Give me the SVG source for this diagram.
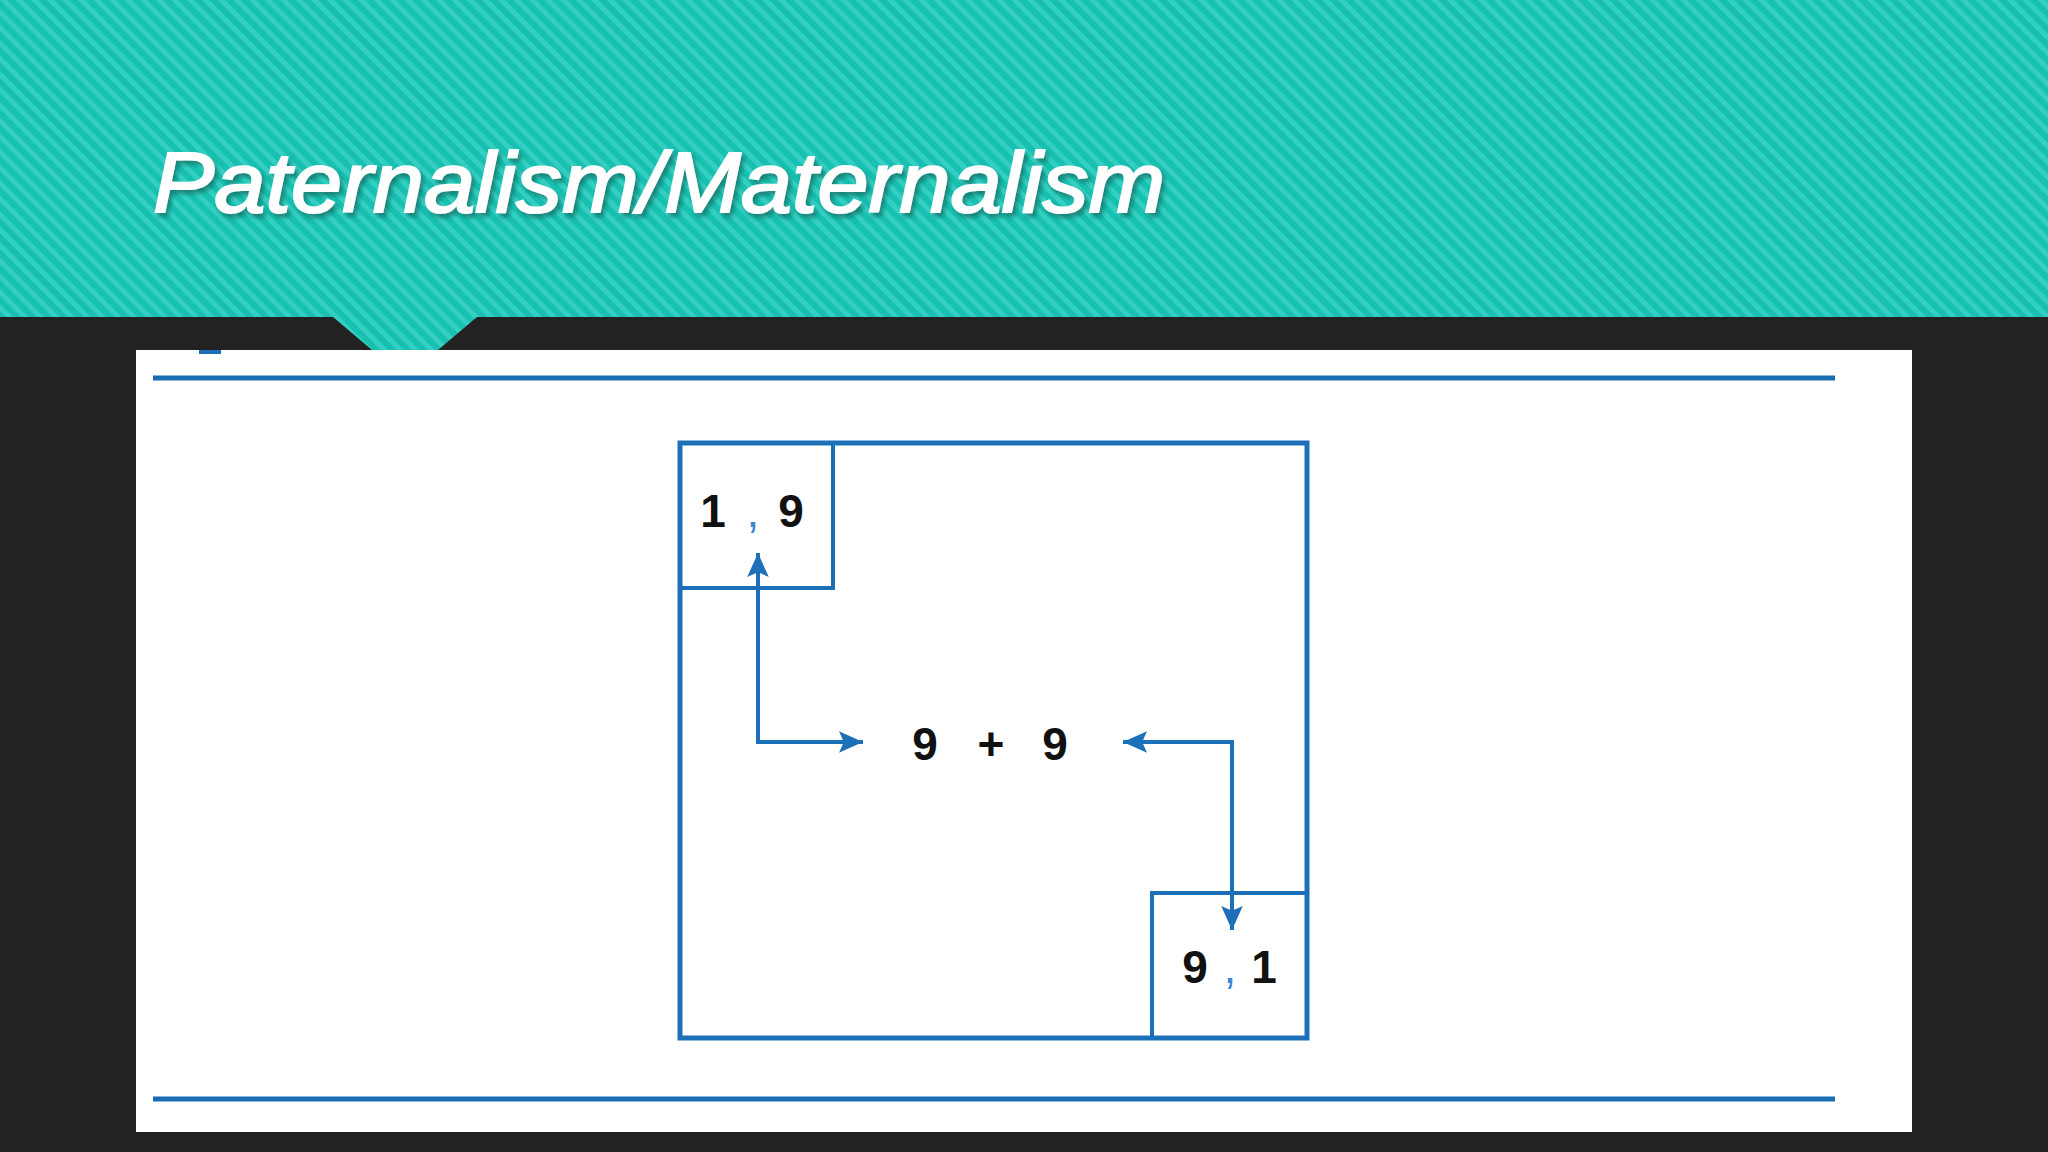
<svg xmlns="http://www.w3.org/2000/svg" width="2048" height="1152" viewBox="0 0 2048 1152">
  <defs>
    <pattern id="stripes" patternUnits="userSpaceOnUse" width="11" height="11" patternTransform="rotate(-45)">
      <rect width="11" height="11" fill="#17c0b0"/>
      <rect width="5" height="11" fill="#34cfc2"/>
    </pattern>
    <filter id="shadow" x="-5%" y="-20%" width="110%" height="150%">
      <feDropShadow dx="3" dy="4" stdDeviation="2" flood-color="#0a5a52" flood-opacity="0.6"/>
    </filter>
    <marker id="arrow" viewBox="0 0 10 10" refX="10" refY="5" markerUnits="userSpaceOnUse" markerWidth="24" markerHeight="24" orient="auto-start-reverse">
      <path d="M0,0.5 L10,5 L0,9.5 L2,5 Z" fill="#1c70b8"/>
    </marker>
  </defs>
  <style>
    .box { fill: none; stroke: #1c70b8; }
    .rule { stroke: #1a6db3; stroke-width: 5; }
    .conn { fill: none; stroke: #1c70b8; stroke-width: 4; }
    .num { font-family: "Liberation Sans", Arial, sans-serif; font-weight: bold; font-size: 46px; fill: #111; text-anchor: middle; }
    .comma { fill: #3a88d4; font-weight: normal; }
    .title { font-family: "Liberation Sans", Arial, sans-serif; font-style: italic; font-size: 86px; fill: #ffffff; stroke: #ffffff; stroke-width: 2; }
  </style>

  <!-- background -->
  <rect x="0" y="0" width="2048" height="1152" fill="#222222"/>
  <!-- header band with notch -->
  <path d="M0,0 H2048 V317 H477 L438,350 H372 L333,317 H0 Z" fill="url(#stripes)"/>
  <text class="title" x="153" y="212" textLength="1012" lengthAdjust="spacingAndGlyphs" filter="url(#shadow)">Paternalism/Maternalism</text>

  <!-- white panel -->
  <rect x="136" y="350" width="1776" height="782" fill="#ffffff"/>
  <rect x="199" y="350" width="22" height="4" fill="#1c70b8"/>
  <line class="rule" x1="153" y1="378" x2="1835" y2="378"/>
  <line class="rule" x1="153" y1="1099" x2="1835" y2="1099"/>

  <g id="outer-square">
    <rect class="box" x="680" y="443" width="627" height="595" stroke-width="5"/>
  </g>
  <g id="node-1-9">
    <rect class="box" x="680" y="443" width="153" height="145" stroke-width="4"/>
    <text class="num" y="527"><tspan x="713">1</tspan><tspan x="753" class="comma">,</tspan><tspan x="791">9</tspan></text>
  </g>
  <g id="node-9-plus-9">
    <text class="num" y="760"><tspan x="925">9</tspan><tspan x="991">+</tspan><tspan x="1055">9</tspan></text>
  </g>
  <g id="node-9-1">
    <rect class="box" x="1152" y="893" width="155" height="145" stroke-width="4"/>
    <text class="num" y="983"><tspan x="1195">9</tspan><tspan x="1230" class="comma">,</tspan><tspan x="1264">1</tspan></text>
  </g>

  <g id="connectors">
    <path class="conn" d="M758,553 L758,742 L863,742" marker-start="url(#arrow)" marker-end="url(#arrow)"/>
    <path class="conn" d="M1123,742 L1232,742 L1232,930" marker-start="url(#arrow)" marker-end="url(#arrow)"/>
  </g>
</svg>
